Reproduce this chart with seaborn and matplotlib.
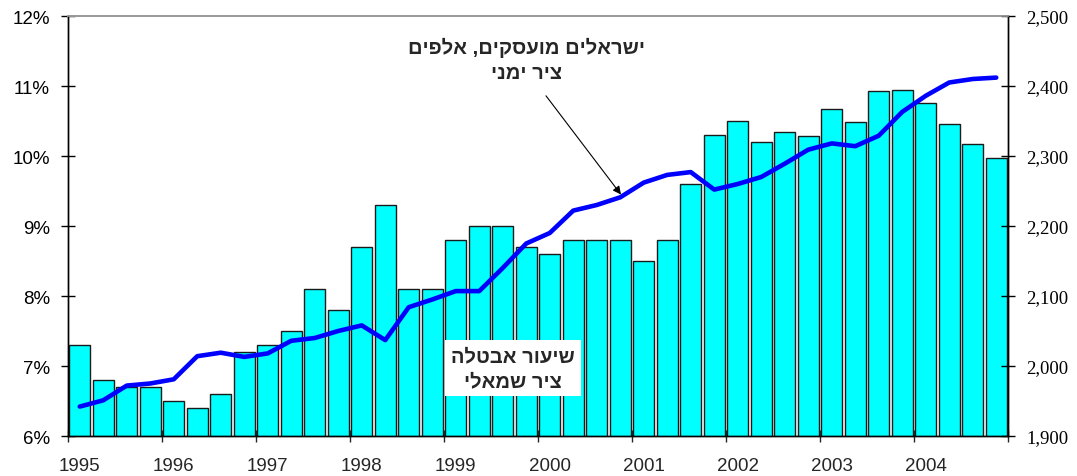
#!/usr/bin/env python3
"""
Unemployment rate (bars, left axis) and employed Israelis in thousands
(line, right axis), quarterly 1995-2004.

Usage:
    python plot.py
"""

import numpy as np
import pandas as pd
import matplotlib
matplotlib.use('Agg')
import matplotlib.pyplot as plt
import seaborn as sns


# Data
YEARS = list(range(1995, 2005))
QUARTERS = [f'{y}Q{q}' for y in YEARS for q in range(1, 5)]

# unemployment rate, %
UNEMPLOYMENT = [
    7.3, 6.8, 6.7, 6.7,
    6.5, 6.4, 6.6, 7.2,
    7.3, 7.5, 8.1, 7.8,
    8.7, 9.3, 8.1, 8.1,
    8.8, 9.0, 9.0, 8.7,
    8.6, 8.8, 8.8, 8.8,
    8.5, 8.8, 9.6, 10.3,
    10.5, 10.2, 10.35, 10.28,
    10.67, 10.48, 10.93, 10.95,
    10.76, 10.46, 10.17, 9.97,
]

# employed Israelis, thousands
EMPLOYED = [
    1942, 1951, 1972, 1975,
    1981, 2014, 2019, 2013,
    2018, 2036, 2040, 2050,
    2058, 2037, 2084, 2095,
    2107, 2107, 2140, 2175,
    2190, 2222, 2230, 2241,
    2262, 2273, 2277, 2252,
    2260, 2270, 2289, 2309,
    2318, 2314, 2329, 2363,
    2386, 2405, 2410, 2412,
]

LEFT_TICKS = [6, 7, 8, 9, 10, 11, 12]
RIGHT_TICKS = [1900, 2000, 2100, 2200, 2300, 2400, 2500]

LABEL_EMPLOYED = 'ישראלים מועסקים, אלפים\nציר ימני'
LABEL_UNEMPLOYMENT = 'שיעור אבטלה\nציר שמאלי'


def visual_rtl(text: str) -> str:
    """matplotlib has no bidi support, so put Hebrew lines in visual order."""
    return '\n'.join(line[::-1] for line in text.split('\n'))


def main():
    sns.set_style('ticks')
    plt.rcParams['font.family'] = ['Liberation Sans', 'DejaVu Sans']

    df = pd.DataFrame({
        'quarter': QUARTERS,
        'unemployment': UNEMPLOYMENT,
        'employed': EMPLOYED,
    })
    n = len(df)

    fig = plt.figure(figsize=(10.77, 4.77), dpi=100)
    ax = fig.add_axes([68 / 1077, 1 - 437 / 477, 940 / 1077, 420 / 477])

    # Bars - unemployment rate
    sns.barplot(data=df, x='quarter', y='unemployment', color='#00FFFF',
                saturation=1, edgecolor='#1a1a1a', linewidth=1.0,
                width=0.9, ax=ax)
    ax.set_xlim(-0.5, n - 0.5)
    ax.set_ylim(LEFT_TICKS[0], LEFT_TICKS[-1])
    ax.set_xlabel('')
    ax.set_ylabel('')

    ax.set_yticks(LEFT_TICKS, labels=[f'{v}%' for v in LEFT_TICKS])
    ax.tick_params(axis='y', direction='inout', length=10, width=1, pad=8,
                   labelsize=13.5, colors='black')

    # Year boundaries as ticks, labels under the first bar of each year
    bounds = np.arange(-0.5, n, 4)
    ax.set_xticks(bounds, labels=[''] * len(bounds))
    ax.set_xticks(np.arange(0, n, 4), labels=[str(y) for y in YEARS], minor=True)
    ax.tick_params(axis='x', which='major', direction='inout', length=8, width=1)
    ax.tick_params(axis='x', which='minor', length=0, pad=15, labelsize=13.5)

    # Line - employed Israelis, right axis
    ax2 = ax.twinx()
    sns.lineplot(x=np.arange(n), y=df['employed'], color='#0000FF',
                 linewidth=3.3, ax=ax2)
    ax2.set_ylim(RIGHT_TICKS[0], RIGHT_TICKS[-1])
    ax2.set_ylabel('')
    ax2.set_yticks(RIGHT_TICKS, labels=[f'{v:,}' for v in RIGHT_TICKS],
                   fontfamily='Liberation Serif')
    ax2.tick_params(axis='y', direction='inout', length=10, width=1, pad=8,
                    labelsize=13.5, colors='black')

    for a in (ax, ax2):
        for side in ('left', 'right', 'bottom'):
            a.spines[side].set_visible(True)
            a.spines[side].set_color('black')
            a.spines[side].set_linewidth(1)
        a.spines['top'].set_visible(True)
        a.spines['top'].set_color('#999999')
        a.spines['top'].set_linewidth(1.2)

    # Annotations
    ax2.text(19.03, 2438, visual_rtl(LABEL_EMPLOYED), ha='center', va='center',
             fontsize=14.5, fontweight='bold', linespacing=1.4)
    ax2.annotate('', xy=(23.03, 2245), xytext=(19.84, 2386),
                 arrowprops=dict(arrowstyle='-|>', color='black', lw=0.8,
                                 mutation_scale=12, shrinkA=0, shrinkB=0))
    ax2.text(18.44, 1900 + (6.97 - 6) * 100, visual_rtl(LABEL_UNEMPLOYMENT),
             ha='center', va='center', fontsize=14.5, fontweight='bold',
             linespacing=1.4,
             bbox=dict(boxstyle='square,pad=0.3', fc='white', ec='none'))

    fig.savefig('out.png', dpi=100)
    plt.close(fig)


if __name__ == '__main__':
    main()
